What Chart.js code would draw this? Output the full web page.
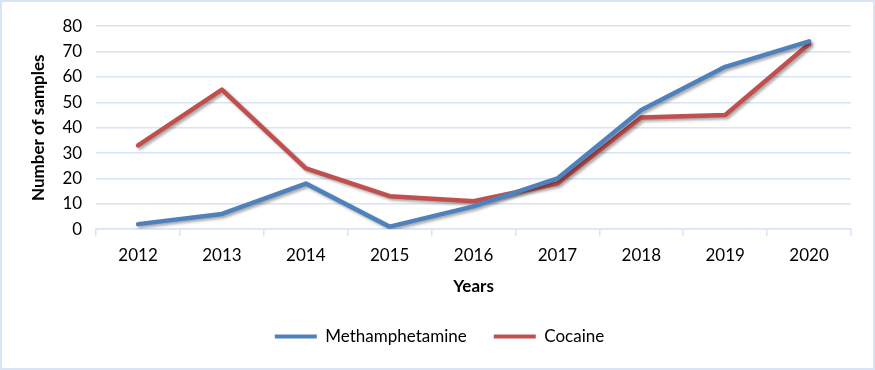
<!DOCTYPE html>
<html>
<head>
<meta charset="utf-8">
<script src="https://cdn.jsdelivr.net/npm/chart.js@4"></script>
<style>
  html, body { margin: 0; padding: 0; background: #fff; }
  #wrap {
    width: 875px; height: 370px; box-sizing: border-box;
    border: 2px solid #D9E4F4; background: #fff;
  }
  #wrap canvas { display: block; }
</style>
</head>
<body>
<div id="wrap"><canvas id="chart" width="871" height="366"></canvas></div>
<script>
const years = ['2012', '2013', '2014', '2015', '2016', '2017', '2018', '2019', '2020'];
const methamphetamine = [2, 6, 18, 1, 9, 20, 47, 64, 74];
const cocaine = [33, 55, 24, 13, 11, 18, 44, 45, 73];

const BLUE = '#4F81BD';
const RED = '#C0504D';
const GRID = '#D9E4F4';
const FONT = 'Lato, "Open Sans", sans-serif';

// soft drop shadow under the lines, like the office chart
const lineShadow = {
  id: 'lineShadow',
  beforeDatasetsDraw(chart) {
    const ctx = chart.ctx;
    ctx.save();
    ctx.shadowColor = 'rgba(0,0,0,0.35)';
    ctx.shadowBlur = 3;
    ctx.shadowOffsetX = 2;
    ctx.shadowOffsetY = 2;
  },
  afterDatasetsDraw(chart) {
    chart.ctx.restore();
  },
};

const ctx = document.getElementById('chart').getContext('2d');
new Chart(ctx, {
  type: 'line',
  data: {
    labels: years,
    datasets: [
      { label: 'Methamphetamine', data: methamphetamine, borderColor: BLUE, backgroundColor: BLUE },
      { label: 'Cocaine', data: cocaine, borderColor: RED, backgroundColor: RED },
    ],
  },
  options: {
    responsive: false,
    animation: false,
    pointRadius: 0,
    tension: 0,
    layout: { padding: { top: 8, right: 22, bottom: 13, left: 26 } },
    elements: { line: { borderWidth: 4.5, borderCapStyle: 'round', borderJoinStyle: 'round' } },
    plugins: {
      legend: {
        position: 'bottom',
        labels: {
          font: { family: FONT, size: 17 },
          color: '#000',
          boxWidth: 42,
          boxHeight: 4,
          padding: 27,
          generateLabels(chart) {
            return chart.data.datasets.map((d, i) => ({
              text: d.label,
              fillStyle: d.borderColor,
              strokeStyle: d.borderColor,
              lineWidth: 0,
              datasetIndex: i,
            }));
          },
        },
      },
      tooltip: { enabled: false },
    },
    scales: {
      x: {
        offset: true,
        grid: { display: true, drawOnChartArea: false, offset: true, color: GRID, tickLength: 7, lineWidth: 1.5 },
        border: { color: GRID, width: 1.5 },
        ticks: { font: { family: FONT, size: 17 }, color: '#000', padding: 9 },
        title: { display: true, text: 'Years', font: { family: FONT, size: 17, weight: 'bold' }, color: '#000', padding: { top: 2 } },
      },
      y: {
        min: 0,
        max: 80,
        ticks: { stepSize: 10, font: { family: FONT, size: 17 }, color: '#000', padding: 14 },
        grid: { color: GRID, lineWidth: 1.5, drawTicks: false },
        border: { display: false },
        title: { display: true, text: 'Number of samples', font: { family: FONT, size: 17, weight: 'bold' }, color: '#000', padding: { top: 0, bottom: 0 } },
      },
    },
  },
  plugins: [lineShadow],
});
</script>
</body>
</html>
